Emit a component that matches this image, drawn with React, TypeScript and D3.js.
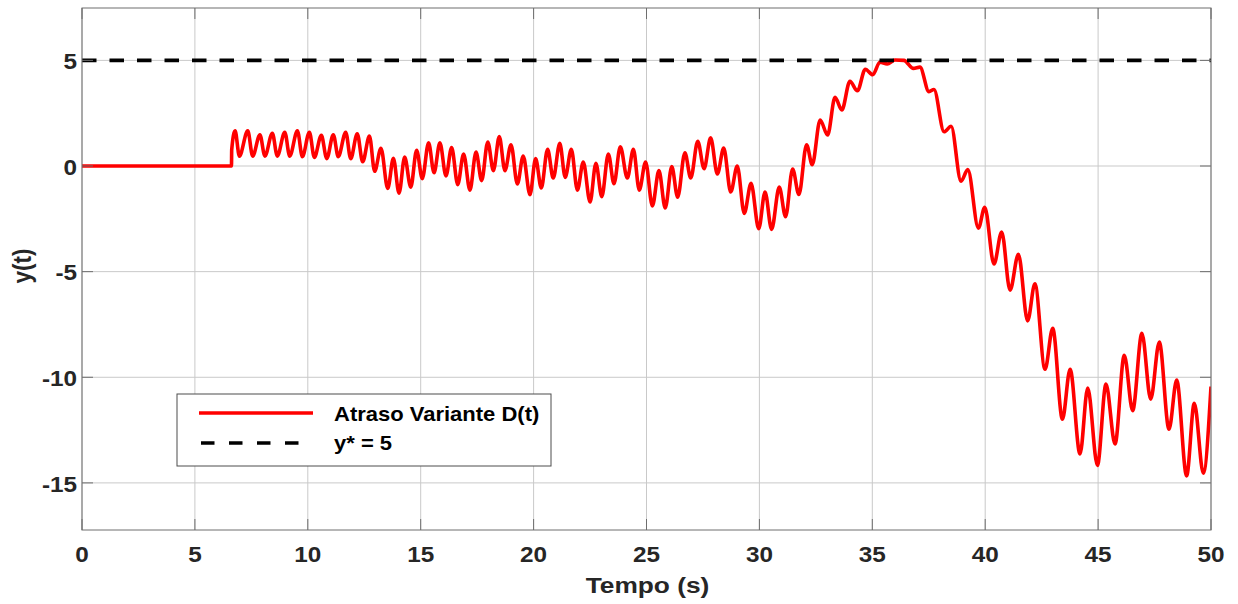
import React from "react";
import * as d3 from "d3";

// Time samples (s) (peaks / troughs)
const tempo: number[] = [
  0, 6.62, 6.63, 6.78, 6.97, 7.34, 7.56, 7.88, 8.10, 8.43, 8.65, 8.98, 9.20, 9.54, 9.76,
  10.07, 10.29, 10.60, 10.84, 11.13, 11.35, 11.68, 11.90, 12.19, 12.43, 12.73, 12.96,
  13.24, 13.54, 13.79, 14.04, 14.29, 14.56, 14.82, 15.07, 15.35, 15.59, 15.85, 16.12,
  16.37, 16.64, 16.90, 17.18, 17.45, 17.70, 17.97, 18.22, 18.48, 18.73, 19.00, 19.28,
  19.54, 19.84, 20.09, 20.34, 20.62, 20.87, 21.16, 21.40, 21.67, 21.94, 22.20, 22.50,
  22.76, 23.02, 23.31, 23.56, 23.84, 24.15, 24.42, 24.68, 24.96, 25.26, 25.55, 25.83,
  26.12, 26.38, 26.70, 26.96, 27.27, 27.55, 27.84, 28.14, 28.42, 28.73, 29.02, 29.33,
  29.63, 29.97, 30.25, 30.54, 30.88, 31.16, 31.47, 31.75, 32.09, 32.34, 32.69, 33.02,
  33.35, 33.65, 34.01, 34.34, 34.69, 35.02, 35.34, 35.66, 36.00, 36.40, 36.82, 37.11,
  37.51, 37.73, 38.18, 38.49, 38.93, 39.23, 39.70, 39.98, 40.39, 40.73, 41.10, 41.47,
  41.88, 42.20, 42.65, 42.99, 43.42, 43.76, 44.20, 44.54, 44.97, 45.35, 45.75, 46.16,
  46.53, 46.94, 47.33, 47.71, 48.14, 48.48, 48.92, 49.26, 49.66, 50.00,
];

// Output y(t) with variable delay D(t)
const saida: number[] = [
  0, 0, 0.76, 1.67, 0.47, 1.67, 0.47, 1.48, 0.47, 1.55, 0.47, 1.60, 0.47, 1.67, 0.44,
  1.60, 0.41, 1.45, 0.35, 1.48, 0.44, 1.60, 0.35, 1.53, 0.20, 1.42, -0.25,
  0.84, -1.06, 0.36, -1.29, 0.42, -1.00, 0.74, -0.60, 1.10, -0.32, 1.10, -0.47,
  0.88, -0.88, 0.57, -1.14, 0.66, -0.69, 1.14, -0.22, 1.39, -0.22, 1.01, -0.85,
  0.47, -1.36, 0.35, -1.04, 0.79, -0.57, 1.07, -0.54, 0.79, -1.14, 0.19, -1.70,
  0.13, -1.45, 0.57, -0.84, 0.91, -0.57, 0.79, -1.14, 0.19, -1.89, -0.22, -1.99,
  -0.03, -1.48, 0.63, -0.57, 1.17, -0.13, 1.33, -0.38, 0.85, -1.23, 0.00, -2.24,
  -0.82, -2.97, -1.23, -3.00, -1.00, -2.40, -0.14, -1.35, 1.01, 0.06, 2.18, 1.47,
  3.25, 2.65, 4.01, 3.56, 4.58, 4.32, 4.92, 4.83, 5.02, 5.00, 4.62, 4.68,
  3.52, 3.62, 1.62, 1.88, -0.72, -0.17, -2.94, -1.95, -4.64, -3.12, -5.88, -4.18,
  -7.33, -5.57, -9.62, -7.68, -11.99, -9.62, -13.63, -10.51, -14.17, -10.32, -13.16, -8.96,
  -11.58, -7.92, -11.04, -8.33, -12.46, -10.13, -14.67, -11.23, -14.54, -10.44,
];

const referencia = 5;
const xTicks: number[] = [0, 5, 10, 15, 20, 25, 30, 35, 40, 45, 50];
const yTicks: number[] = [-15, -10, -5, 0, 5];
const legendLabels: string[] = ["Atraso Variante D(t)", "y* = 5"];

const W = 1238;
const H = 604;
const L = 82;
const R = 1211;
const T = 8;
const B = 530;
const FONT = "'Liberation Sans', Arial, Helvetica, sans-serif";
const SX = 1.13;

export default function App() {
  const x = d3.scaleLinear().domain([0, 50]).range([L, R]);
  const y = d3.scaleLinear().domain([-17.23, 7.48]).range([B, T]);

  const pts: [number, number][] = tempo.map((t, i) => [t, saida[i]]);
  const line = d3
    .line<[number, number]>()
    .x((d) => x(d[0]))
    .y((d) => y(d[1]))
    .curve(d3.curveMonotoneX);
  const pathD = line(pts) || "";

  const axisColor = "#262626";
  const gridColor = "#c9c9c9";
  const tickLen = 11;

  return (
    <svg
      width={W}
      height={H}
      style={{ position: "absolute", left: 0, top: 0, display: "block", background: "#fff" }}
    >
      <rect x={0} y={0} width={W} height={H} fill="#fff" />
      {/* grid */}
      {xTicks.map((t) => (
        <line key={"gx" + t} x1={x(t)} x2={x(t)} y1={T} y2={B} stroke={gridColor} strokeWidth={1} />
      ))}
      {yTicks.map((t) => (
        <line key={"gy" + t} x1={L} x2={R} y1={y(t)} y2={y(t)} stroke={gridColor} strokeWidth={1} />
      ))}
      {/* data */}
      <defs>
        <clipPath id="plotclip">
          <rect x={L} y={T} width={R - L} height={B - T} />
        </clipPath>
      </defs>
      <g clipPath="url(#plotclip)">
        <path d={pathD} fill="none" stroke="#ff0000" strokeWidth={3.6} strokeLinejoin="round" />
        <line
          x1={x(0)}
          x2={x(50)}
          y1={y(referencia)}
          y2={y(referencia)}
          stroke="#000"
          strokeWidth={3.6}
          strokeDasharray="14.5,13"
        />
      </g>
      {/* box */}
      <rect x={L} y={T} width={R - L} height={B - T} fill="none" stroke="#6e6e6e" strokeWidth={1} />
      {/* ticks */}
      {xTicks.map((t) => (
        <g key={"tx" + t}>
          <line x1={x(t)} x2={x(t)} y1={B} y2={B - tickLen} stroke="#6e6e6e" />
          <line x1={x(t)} x2={x(t)} y1={T} y2={T + tickLen} stroke="#6e6e6e" />
          <text
            transform={`translate(${x(t)}, 561.5) scale(${SX}, 1)`}
            textAnchor="middle"
            fontFamily={FONT}
            fontWeight="bold"
            fontSize={21.5}
            fill={axisColor}
          >
            {t}
          </text>
        </g>
      ))}
      {yTicks.map((t) => (
        <g key={"ty" + t}>
          <line x1={L} x2={L + tickLen} y1={y(t)} y2={y(t)} stroke="#6e6e6e" />
          <line x1={R} x2={R - tickLen} y1={y(t)} y2={y(t)} stroke="#6e6e6e" />
          <text
            transform={`translate(77, ${y(t) + 8.8}) scale(${SX}, 1)`}
            textAnchor="end"
            fontFamily={FONT}
            fontWeight="bold"
            fontSize={21.5}
            fill={axisColor}
          >
            {t}
          </text>
        </g>
      ))}
      {/* axis labels */}
      <text
        transform={`translate(${(L + R) / 2 + 1}, 593) scale(1.17, 1)`}
        textAnchor="middle"
        fontFamily={FONT}
        fontWeight="bold"
        fontSize={22.5}
        fill={axisColor}
      >
        Tempo (s)
      </text>
      <text
        transform={`translate(31, 266) rotate(-90) scale(1, 1.15)`}
        textAnchor="middle"
        fontFamily={FONT}
        fontWeight="bold"
        fontSize={22.5}
        fill={axisColor}
      >
        y(t)
      </text>
      {/* legend */}
      <g>
        <rect x={177} y={394} width={374} height={72} fill="#fff" stroke="#4d4d4d" strokeWidth={1} />
        <line x1={199} x2={313} y1={413} y2={413} stroke="#ff0000" strokeWidth={3.4} />
        <line x1={201} x2={313} y1={443} y2={443} stroke="#000" strokeWidth={3.4} strokeDasharray="13.5,14.5" />
        <text
          transform={`translate(334, 421) scale(1.1, 1)`}
          fontFamily={FONT}
          fontWeight="bold"
          fontSize={20}
          fill="#000"
        >
          {legendLabels[0]}
        </text>
        <text
          transform={`translate(334, 449.5) scale(1.1, 1)`}
          fontFamily={FONT}
          fontWeight="bold"
          fontSize={20}
          fill="#000"
        >
          {legendLabels[1]}
        </text>
      </g>
    </svg>
  );
}
